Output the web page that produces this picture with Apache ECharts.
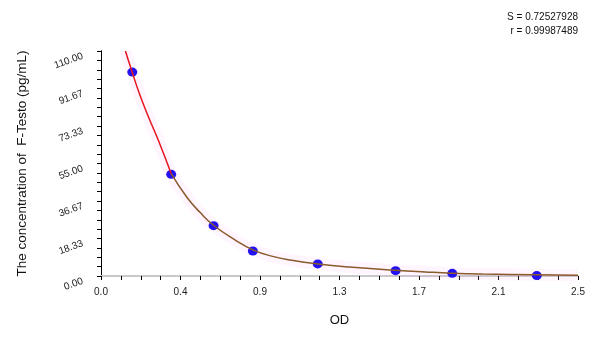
<!DOCTYPE html>
<html>
<head>
<meta charset="utf-8">
<script src="https://cdn.jsdelivr.net/npm/echarts@6/dist/echarts.min.js"></script>
<style>html,body{margin:0;padding:0;background:#fff}#c{width:600px;height:337px}</style>
</head>
<body>
<div id="c"></div>
<script>
// Standard points (OD, concentration)
var pointOD = [0.164, 0.368, 0.590, 0.796, 1.136, 1.544, 1.841, 2.284];
var pointConc = [99.7, 49.7, 24.6, 12.2, 5.9, 2.6, 1.3, 0.2];

// Fitted curve
var curveOD = [0.128, 0.164, 0.20, 0.25, 0.30, 0.368, 0.45, 0.52, 0.59, 0.70, 0.796, 0.90, 1.00, 1.136, 1.30, 1.544, 1.70, 1.841, 2.00, 2.284, 2.50];
var curveConc = [110, 99.5, 89.5, 77.5, 66.5, 50.0, 38.5, 31.0, 24.8, 17.8, 12.8, 9.6, 7.7, 5.9, 4.4, 2.8, 2.0, 1.4, 1.0, 0.6, 0.4];
var redEndIndex = 5; // red part ends at second standard

var xTickLabels = ['0.0', '0.4', '0.9', '1.3', '1.7', '2.1', '2.5'];
var yTickLabels = ['0.00', '18.33', '36.67', '55.00', '73.33', '91.67', '110.00'];

var xMax = 2.5, yMax = 110;
var xInt = xMax / 6, yInt = yMax / 6;

function pairs(xs, ys, a, b) {
  var out = [];
  for (var i = a; i <= b; i++) out.push([xs[i], ys[i]]);
  return out;
}
var curveAll = pairs(curveOD, curveConc, 0, curveOD.length - 1);
var curveRed = pairs(curveOD, curveConc, 0, redEndIndex);
var curveBrown = pairs(curveOD, curveConc, redEndIndex, curveOD.length - 1);
var pts = pairs(pointOD, pointConc, 0, pointOD.length - 1);

var font = 'Liberation Sans, Arial, sans-serif';
var chart = echarts.init(document.getElementById('c'));
chart.setOption({
  animation: false,
  backgroundColor: '#fff',
  grid: {left: 101, right: 22, top: 51, bottom: 61, containLabel: false},
  xAxis: [{
    type: 'value', min: 0, max: xMax, interval: xInt,
    name: 'OD', nameLocation: 'middle', nameGap: 38,
    nameTextStyle: {fontFamily: font, fontSize: 13, color: '#111'},
    axisLine: {lineStyle: {color: '#000', width: 1}},
    axisTick: {show: true, length: 4, inside: false, lineStyle: {color: '#000'}},
    minorTick: {show: true, splitNumber: 4, length: 4, lineStyle: {color: '#000'}},
    splitLine: {show: false},
    axisLabel: {fontFamily: font, fontSize: 10, color: '#222', margin: 11,
      formatter: function (v) { return xTickLabels[Math.round(v / xInt)]; }}
  }, {
    type: 'value', position: 'top', min: 0, max: xMax,
    axisLine: {show: true, lineStyle: {color: '#c8c8c8', width: 2}},
    axisTick: {show: false}, axisLabel: {show: false}, splitLine: {show: false}
  }],
  yAxis: [{
    type: 'value', min: 0, max: yMax, interval: yInt,
    name: 'The concentration of  F-Testo (pg/mL)', nameLocation: 'middle', nameGap: 72,
    nameTextStyle: {fontFamily: font, fontSize: 13.5, color: '#111'},
    axisLine: {show: true, lineStyle: {color: '#000', width: 1}},
    axisTick: {show: true, length: 4, inside: false, lineStyle: {color: '#000'}},
    minorTick: {show: true, splitNumber: 4, length: 4, lineStyle: {color: '#000'}},
    splitLine: {show: false},
    axisLabel: {fontFamily: font, fontSize: 10, color: '#222', rotate: 20, margin: 20,
      verticalAlign: 'top',
      formatter: function (v) { return yTickLabels[Math.round(v / yInt)]; }}
  }, {
    type: 'value', position: 'right', min: 0, max: yMax,
    axisLine: {show: true, lineStyle: {color: '#000', width: 1}},
    axisTick: {show: false}, axisLabel: {show: false}, splitLine: {show: false}
  }],
  graphic: [
    {type: 'text', right: 22, top: 12, style: {text: 'S = 0.72527928', fontFamily: font, fontSize: 10, fill: '#111', textAlign: 'right'}},
    {type: 'text', right: 22, top: 26, style: {text: 'r = 0.99987489', fontFamily: font, fontSize: 10, fill: '#111', textAlign: 'right'}}
  ],
  series: [
    {type: 'line', data: curveAll, smooth: true, showSymbol: false, z: 1, silent: true,
      lineStyle: {color: 'rgba(255,170,255,0.12)', width: 12}},
    {type: 'scatter', data: pts, symbol: 'circle', symbolSize: [10, 9], z: 2,
      itemStyle: {color: '#2212f2', opacity: 1}},
    {type: 'line', data: curveRed, smooth: true, showSymbol: false, z: 3,
      lineStyle: {color: '#e8141c', width: 1.5}},
    {type: 'line', data: curveBrown, smooth: true, showSymbol: false, z: 3,
      lineStyle: {color: '#8a5a2a', width: 1.5}}
  ]
});
</script>
</body>
</html>
